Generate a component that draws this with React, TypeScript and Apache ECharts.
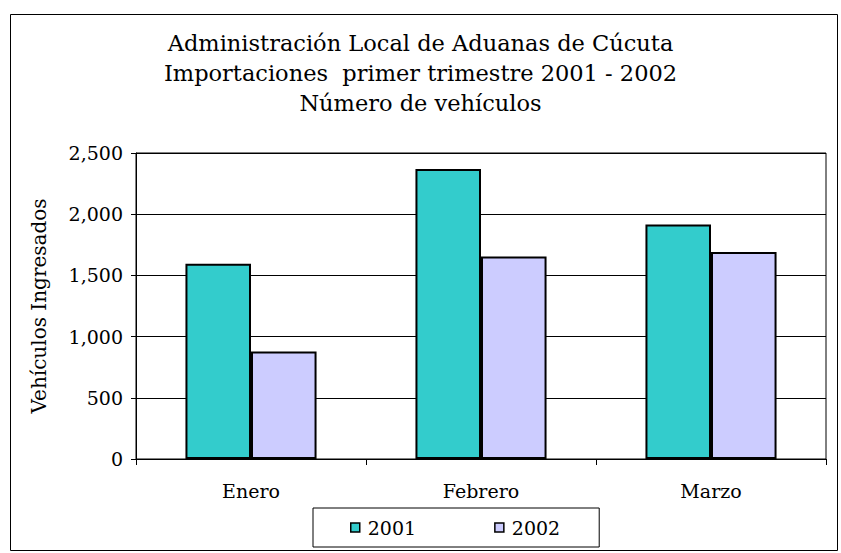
import React, { useEffect, useRef } from "react";
import * as echarts from "echarts";

const categories = ["Enero", "Febrero", "Marzo"];
const series2001 = [1595, 2370, 1915];
const series2002 = [878, 1655, 1692];
const titleLines = [
  "Administración Local de Aduanas de Cúcuta",
  "Importaciones  primer trimestre 2001 - 2002",
  "Número de vehículos",
];
const yAxisName = "Vehículos Ingresados";

const FONT = "DejaVu Serif";

export default function App() {
  const ref = useRef<HTMLDivElement>(null);
  useEffect(() => {
    if (!ref.current) return;
    const chart = echarts.init(ref.current, undefined, { renderer: "svg" });
    chart.setOption({
      animation: false,
      backgroundColor: "#ffffff",
      textStyle: { fontFamily: FONT, color: "#000" },
      title: {
        text: titleLines.join("\n"),
        left: "center",
        top: 23,
        textStyle: { fontFamily: FONT, fontSize: 22.5, fontWeight: "normal", lineHeight: 30, color: "#000" },
      },
      graphic: [
        {
          type: "rect",
          shape: { x: 10.5, y: 14.5, width: 827, height: 536 },
          style: { fill: "none", stroke: "#000", lineWidth: 1 },
          silent: true,
        },
      ],
      legend: {
        left: 313,
        top: 508,
        itemWidth: 9,
        itemHeight: 9,
        itemGap: 78,
        padding: [10, 39, 10, 37],
        borderColor: "#000",
        borderWidth: 1,
        icon: "rect",
        itemStyle: { borderColor: "#000", borderWidth: 1.5 },
        textStyle: { fontFamily: FONT, fontSize: 19, color: "#000", padding: [0, 0, 0, 3] },
        data: ["2001", "2002"],
      },
      grid: {
        left: 136,
        right: 15,
        top: 153,
        bottom: 94,
        show: true,
        borderColor: "#000",
        borderWidth: 1,
      },
      xAxis: {
        type: "category",
        data: categories,
        axisLine: { lineStyle: { color: "#000", width: 1 } },
        axisTick: { show: true, length: 6, lineStyle: { color: "#000" } },
        axisLabel: { fontFamily: FONT, fontSize: 19, color: "#000", margin: 22 },
      },
      yAxis: {
        type: "value",
        min: 0,
        max: 2500,
        interval: 500,
        name: yAxisName,
        nameLocation: "middle",
        nameGap: 87,
        nameTextStyle: { fontFamily: FONT, fontSize: 20, color: "#000" },
        axisLine: { show: true, lineStyle: { color: "#000", width: 1 } },
        axisTick: { show: true, length: 5, lineStyle: { color: "#000" } },
        axisLabel: {
          fontFamily: FONT,
          fontSize: 19,
          color: "#000",
          margin: 13,
          formatter: (v: number) => v.toLocaleString("en-US"),
        },
        splitLine: { show: true, lineStyle: { color: "#000", width: 1 } },
      },
      series: [
        {
          name: "2001",
          type: "bar",
          data: series2001,
          barGap: "0%",
          barCategoryGap: "43%",
          itemStyle: { color: "#33CCCC", borderColor: "#000", borderWidth: 2 },
        },
        {
          name: "2002",
          type: "bar",
          data: series2002,
          itemStyle: { color: "#CCCCFF", borderColor: "#000", borderWidth: 2 },
        },
      ],
    });
    return () => chart.dispose();
  }, []);
  return (
    <div
      ref={ref}
      style={{ position: "absolute", left: 0, top: 0, width: 841, height: 553 }}
    />
  );
}
